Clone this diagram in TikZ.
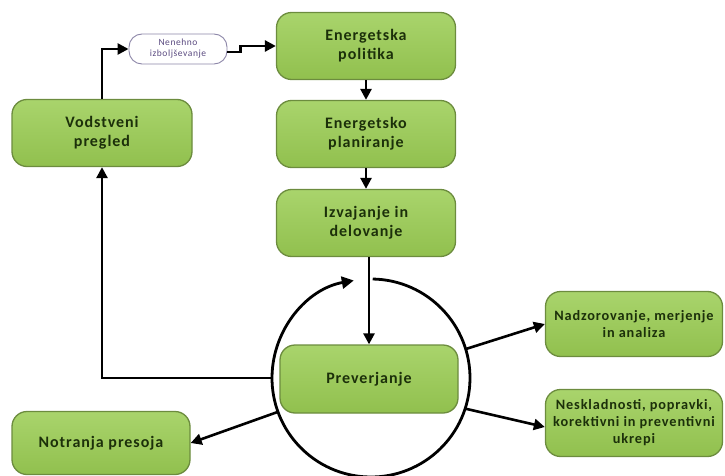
\documentclass[tikz,border=0pt]{standalone}
\usepackage{fontspec}
\setmainfont{Carlito}[LetterSpace=6]
\usetikzlibrary{arrows.meta,calc}
\definecolor{gtop}{HTML}{A9D46C}
\definecolor{gbot}{HTML}{91C04E}
\definecolor{gedge}{HTML}{6C8C3E}
\definecolor{gtext}{HTML}{1C300A}
\definecolor{pedge}{HTML}{8C86A8}
\definecolor{ptext}{HTML}{5A4A80}
\begin{document}
\begin{tikzpicture}[x=1pt,y=-1pt,
  gbox/.style={draw=gedge, line width=1.3pt, rounded corners=15pt,
    top color=gtop, bottom color=gbot, text=gtext, align=center,
    font=\bfseries\fontsize{16}{19}\selectfont, inner sep=2pt},
  sbox/.style={gbox, font=\bfseries\fontsize{14.3}{17}\selectfont},
  pillbox/.style={draw=pedge, line width=0.9pt, rounded corners=13pt,
    fill=white, text=ptext, align=center, font=\fontsize{9.5}{11}\selectfont},
  conn/.style={line width=2.6pt, line join=miter,
    -{Triangle[length=11pt,width=11pt]}},
  ringline/.style={line width=2.8pt}]
\useasboundingbox (0,0) rectangle (725,476);

\node[gbox, minimum width=179pt, minimum height=67pt] (pol) at (366,46) {Energetska\\politika};
\node[gbox, minimum width=179pt, minimum height=67pt] (pla) at (366,134) {Energetsko\\planiranje};
\node[gbox, minimum width=179pt, minimum height=67pt] (izv) at (366,223) {Izvajanje in\\delovanje};
\node[gbox, minimum width=178pt, minimum height=68pt] (pre) at (369,379) {Preverjanje};
\node[gbox, minimum width=180pt, minimum height=67pt] (vod) at (102,133) {Vodstveni\\pregled};
\node[gbox, minimum width=178pt, minimum height=63pt] (not) at (101,443) {Notranja presoja};
\node[sbox, minimum width=177pt, minimum height=65pt] (nad) at (634,324) {Nadzorovanje, merjenje\\in analiza};
\node[sbox, minimum width=177pt, minimum height=67pt] (nes) at (634,423) {Neskladnosti, popravki,\\korektivni in preventivni\\ukrepi};
\node[pillbox, minimum width=98pt, minimum height=30pt] (pill) at (178,49) {Nenehno\\izboljševanje};

% ring
\node[circle, minimum size=198pt, inner sep=0pt, draw=none] (ring) at (371,378) {};
\draw[ringline, -{Triangle[length=12pt,width=12pt]}]
  ($(ring.center)+(-89:99)$) arc[start angle=-89, end angle=260, radius=99];

% connectors
\draw[conn] (pol) -- (pla);
\draw[conn] (pla) -- (izv);
\draw[conn] (izv.south -| pre.north) -- (pre.north);
\draw[conn] (ring.180) -| (vod.south);
\draw[conn] (vod.north) |- (pill.west);
\coordinate (zz) at ($(pill.east)+(0,3)$);
\draw[conn] (zz) -- ++(13,0) |- (pol.west);
\draw[conn] (ring.17) -- (nad.west);
\draw[conn] (ring.-18) -- ($(nes.west)+(0,4)$);
\draw[conn] (ring.200) -- (not.east);
\end{tikzpicture}
\end{document}
